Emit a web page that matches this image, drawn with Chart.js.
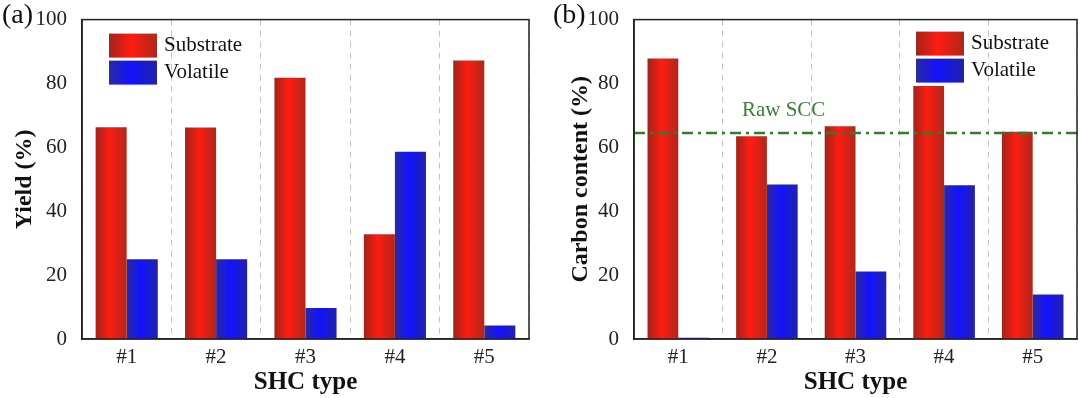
<!DOCTYPE html>
<html>
<head>
<meta charset="utf-8">
<script src="https://cdn.jsdelivr.net/npm/chart.js@4.4.1/dist/chart.umd.min.js"></script>
<style>
  body { margin: 0; background: #fff; }
  #wrap { position: relative; width: 1080px; height: 398px; }
  .pane { position: absolute; top: 0; width: 540px; height: 398px; }
</style>
</head>
<body>
<div id="wrap">
  <div class="pane" style="left:0"><canvas id="yield"></canvas></div>
  <div class="pane" style="left:540px"><canvas id="carbon"></canvas></div>
</div>
<script>
const categories = ['#1', '#2', '#3', '#4', '#5'];
const yieldSubstrate = [66.3, 66.2, 81.8, 32.8, 87.2];
const yieldVolatile = [25.0, 25.0, 9.7, 58.6, 4.2];
const carbonSubstrate = [87.8, 63.5, 66.6, 79.2, 64.9];
const carbonVolatile = [0.4, 48.4, 21.1, 48.1, 13.9];
const rawScc = 64.5;
const seriesNames = ['Substrate', 'Volatile'];

const serif = "'Liberation Serif', 'DejaVu Serif', serif";
const shades = [
  ['#a0241b', '#ff1c10', '#b0271d'],
  ['#2a2aa0', '#1212ff', '#2222aa']
];

function shade(ctx, x0, x1, s) {
  const g = ctx.createLinearGradient(x0, 0, x1, 0);
  g.addColorStop(0, s[0]);
  g.addColorStop(0.45, s[1]);
  g.addColorStop(1, s[2]);
  return g;
}

// horizontal shading of every bar
const barShade = {
  id: 'barShade',
  beforeDatasetsDraw(chart) {
    chart.data.datasets.forEach((ds, i) => {
      chart.getDatasetMeta(i).data.forEach(bar => {
        const g = shade(chart.ctx, bar.x - bar.width / 2, bar.x + bar.width / 2, shades[i]);
        bar.options = Object.assign({}, bar.options, { backgroundColor: g });
      });
    });
  }
};

// box round the plot, panel letter and legend
const frame = {
  id: 'frame',
  afterDraw(chart, args, opts) {
    const { ctx, chartArea: a } = chart;
    ctx.save();
    ctx.strokeStyle = '#222';
    ctx.lineWidth = 1.5;
    ctx.strokeRect(a.left, a.top, a.right - a.left, a.bottom - a.top);

    ctx.fillStyle = '#111';
    ctx.font = '28px ' + serif;
    ctx.textBaseline = 'middle';
    ctx.textAlign = 'left';
    ctx.fillText(opts.letter, opts.letterX, 16);

    ctx.font = '21px ' + serif;
    seriesNames.forEach((name, i) => {
      const x = a.left + opts.legendX;
      const y = a.top + opts.legendY + i * 27;
      ctx.fillStyle = shade(ctx, x, x + 48, shades[i]);
      ctx.fillRect(x, y, 48, 24);
      ctx.fillStyle = '#111';
      ctx.fillText(name, x + 55, y + 12);
    });
    ctx.restore();
  }
};

// raw SCC reference line
const rawLine = {
  id: 'rawLine',
  afterDatasetsDraw(chart, args, opts) {
    if (!opts.show) return;
    const { ctx, chartArea: a, scales: { x, y } } = chart;
    const py = y.getPixelForValue(rawScc);
    ctx.save();
    ctx.strokeStyle = '#367a2c';
    ctx.lineWidth = 2.5;
    ctx.setLineDash([11, 5, 3, 5]);
    ctx.beginPath();
    ctx.moveTo(a.left, py);
    ctx.lineTo(a.right, py);
    ctx.stroke();
    ctx.setLineDash([]);
    ctx.fillStyle = '#3b7d3b';
    ctx.font = '21px ' + serif;
    ctx.textBaseline = 'middle';
    ctx.fillText('Raw SCC', x.getPixelForValue(1) - 25, py - 23);
    ctx.restore();
  }
};

function makeChart(id, sub, vol, yTitle, cfg) {
  return new Chart(document.getElementById(id), {
    type: 'bar',
    data: {
      labels: categories,
      datasets: [
        { label: seriesNames[0], data: sub, backgroundColor: '#f22' },
        { label: seriesNames[1], data: vol, backgroundColor: '#22f' }
      ]
    },
    options: {
      responsive: true,
      maintainAspectRatio: false,
      animation: false,
      datasets: { bar: { categoryPercentage: 0.695, barPercentage: 1.0 } },
      layout: { padding: { left: 0, right: cfg.padRight, top: 12, bottom: 0 } },
      plugins: {
        legend: { display: false },
        tooltip: { enabled: false },
        frame: cfg,
        rawLine: { show: cfg.raw }
      },
      scales: {
        x: {
          grid: { display: true, offset: true, drawTicks: false, color: '#c4c4c4', lineWidth: 1 },
          border: { display: true, color: '#222', width: 1.5, dash: [6, 5] },
          ticks: { color: '#222', padding: 6, font: { family: serif, size: 21 } },
          title: { display: true, text: 'SHC type', color: '#111', padding: { top: 0, bottom: 0 },
            font: { family: serif, size: 25, weight: 'bold' } },
          afterFit(s) { s.height = 59; }
        },
        y: {
          min: 0, max: 100,
          grid: { display: false },
          border: { display: true, color: '#222', width: 1.5 },
          ticks: { stepSize: 20, color: '#222', padding: 7, font: { family: serif, size: 21 } },
          title: { display: true, text: yTitle, color: '#111', padding: { top: cfg.titlePad, bottom: 0 },
            font: { family: serif, size: 24, weight: 'bold' } },
          afterFit(s) { s.width = cfg.axisWidth; }
        }
      }
    },
    plugins: [barShade, frame, rawLine]
  });
}

makeChart('yield', yieldSubstrate, yieldVolatile, 'Yield (%)',
  { letter: '(a)', letterX: 2, legendX: 27, legendY: 14, padRight: 11, axisWidth: 82, titlePad: 10, raw: false });
makeChart('carbon', carbonSubstrate, carbonVolatile, 'Carbon content (%)',
  { letter: '(b)', letterX: 13, legendX: 282, legendY: 12, padRight: 3, axisWidth: 94, titlePad: 26, raw: true });
</script>
</body>
</html>
